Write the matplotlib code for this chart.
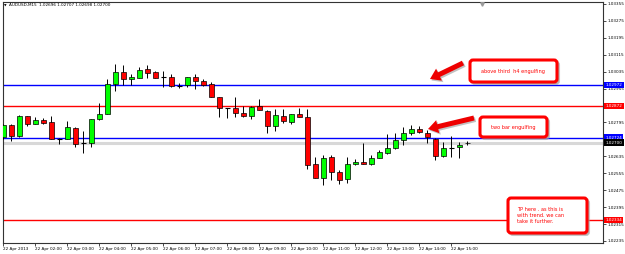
import matplotlib
matplotlib.use("Agg")
import matplotlib.pyplot as plt
import matplotlib.transforms as mtransforms
from matplotlib.patches import FancyBboxPatch, FancyArrowPatch

# ---------------- data ----------------
title = "AUDUSD,M15  1.02696 1.02707 1.02698 1.02700"
x_labels = ["22 Apr 2013", "22 Apr 02:00", "22 Apr 03:00", "22 Apr 04:00",
            "22 Apr 05:00", "22 Apr 06:00", "22 Apr 07:00", "22 Apr 08:00",
            "22 Apr 09:00", "22 Apr 10:00", "22 Apr 11:00", "22 Apr 12:00",
            "22 Apr 13:00", "22 Apr 14:00", "22 Apr 15:00"]
bars_per_label = 4

opens = [1.02726, 1.02783, 1.02729, 1.02826, 1.02788, 1.02807, 1.02795, 1.02718,
         1.02717, 1.02771, 1.02697, 1.02700, 1.02812, 1.02837, 1.02978, 1.03034,
         1.02999, 1.03007, 1.03046, 1.03034, 1.03009, 1.03009, 1.02967, 1.02971,
         1.03009, 1.02991, 1.02977, 1.02916, 1.02864, 1.02862, 1.02838, 1.02826,
         1.02872, 1.02849, 1.02777, 1.02827, 1.02799, 1.02834, 1.02822, 1.02599,
         1.02534, 1.02631, 1.02560, 1.02528, 1.02597, 1.02607, 1.02599, 1.02629,
         1.02649, 1.02673, 1.02712, 1.02747, 1.02763, 1.02747, 1.02717, 1.02637,
         1.02675, 1.02678, 1.02696]
highs = [1.02788, 1.02788, 1.02830, 1.02828, 1.02821, 1.02814, 1.02826, 1.02722,
         1.02804, 1.02774, 1.02755, 1.02812, 1.02886, 1.02999, 1.03071, 1.03067,
         1.03024, 1.03056, 1.03065, 1.03037, 1.03038, 1.03024, 1.02983, 1.03011,
         1.03024, 1.03002, 1.02988, 1.02917, 1.02865, 1.02917, 1.02873, 1.02873,
         1.02907, 1.02852, 1.02857, 1.02859, 1.02835, 1.02862, 1.02859, 1.02633,
         1.02641, 1.02641, 1.02570, 1.02631, 1.02624, 1.02697, 1.02641, 1.02665,
         1.02739, 1.02744, 1.02775, 1.02783, 1.02780, 1.02760, 1.02722, 1.02704,
         1.02731, 1.02704, 1.02707]
lows = [1.02717, 1.02709, 1.02726, 1.02778, 1.02786, 1.02790, 1.02715, 1.02693,
        1.02715, 1.02681, 1.02652, 1.02681, 1.02807, 1.02835, 1.02945, 1.02972,
        1.02972, 1.03005, 1.03007, 1.03003, 1.02964, 1.02961, 1.02958, 1.02961,
        1.02952, 1.02967, 1.02916, 1.02820, 1.02815, 1.02820, 1.02820, 1.02813,
        1.02855, 1.02747, 1.02756, 1.02791, 1.02788, 1.02820, 1.02573, 1.02533,
        1.02500, 1.02523, 1.02504, 1.02508, 1.02594, 1.02599, 1.02596, 1.02627,
        1.02646, 1.02672, 1.02689, 1.02736, 1.02747, 1.02700, 1.02618, 1.02631,
        1.02631, 1.02626, 1.02690]
closes = [1.02783, 1.02731, 1.02826, 1.02788, 1.02807, 1.02793, 1.02717, 1.02718,
          1.02774, 1.02693, 1.02697, 1.02812, 1.02837, 1.02977, 1.03034, 1.03002,
          1.03009, 1.03043, 1.03029, 1.03004, 1.03009, 1.02967, 1.02967, 1.03009,
          1.02992, 1.02974, 1.02917, 1.02862, 1.02864, 1.02838, 1.02827, 1.02870,
          1.02855, 1.02777, 1.02829, 1.02802, 1.02834, 1.02822, 1.02596, 1.02534,
          1.02629, 1.02560, 1.02523, 1.02597, 1.02607, 1.02601, 1.02629, 1.02654,
          1.02676, 1.02712, 1.02744, 1.02763, 1.02749, 1.02725, 1.02637, 1.02673,
          1.02675, 1.02689, 1.02700]

y_ticks = [1.03355, 1.03275, 1.03195, 1.03115, 1.03035, 1.02955, 1.02875,
           1.02795, 1.02715, 1.02635, 1.02555, 1.02475, 1.02395, 1.02315, 1.02235]
levels = [1.02972, 1.02872, 1.02724, 1.02334]
level_colors = ["#0000ff", "#ff0000", "#0000ff", "#ff0000"]
bid_price = 1.02700

notes = ["above third  h4 engulfing",
         "two bar engulfing",
         "TP here . as this is\nwith trend. we can\ntake it further."]

# ---------------- figure ----------------
W, H = 625, 254
fig = plt.figure(figsize=(W / 100, H / 100), dpi=100)
fig.patch.set_facecolor("white")
ax = fig.add_axes([3 / W, 1 - 243 / H, 600 / W, 241 / H])
ax.set_facecolor("white")

bull, bear = "#00ff00", "#ff0000"
body_w = 0.62
for k, (o, h, l, c) in enumerate(zip(opens, highs, lows, closes)):
    ax.vlines(k, l, h, color="black", lw=0.7, zorder=3)
    if abs(c - o) < 1e-9:
        ax.hlines(o, k - body_w / 2, k + body_w / 2, color="black", lw=0.8, zorder=4)
    else:
        ax.bar(k, abs(c - o), bottom=min(o, c), width=body_w,
               color=bull if c > o else bear, edgecolor="black", lw=0.5, zorder=4)

# bid line and horizontal levels
ax.axhline(bid_price, color="#d8d8d8", lw=2.2, zorder=1)
for lv, col in zip(levels, level_colors):
    ax.axhline(lv, color=col, lw=1.0, zorder=2)

ax.set_xlim(-0.05, 74.95)
ax.set_ylim(1.022255, 1.033644)

# tick labels fully hidden behind price tags (as in the terminal)
ymin, ymax = ax.get_ylim()
px_per_price = 241 / (ymax - ymin)
tag_prices = levels + [bid_price]


def tick_text(v):
    for t in tag_prices:
        if abs(v - t) * px_per_price < 3.3:
            return ""
    return f"{v:.5f}"


ax.yaxis.tick_right()
ax.set_yticks(y_ticks)
ax.set_yticklabels([tick_text(v) for v in y_ticks])
ax.set_xticks([i * bars_per_label for i in range(len(x_labels))])
ax.set_xticklabels(x_labels, ha="left")
ax.tick_params(axis="both", labelsize=3.0, length=2, width=0.5, pad=1.2,
               colors="black")
for s in ax.spines.values():
    s.set_color("#333333")
    s.set_linewidth(0.8)

# price tags on right axis
blend = mtransforms.blended_transform_factory(ax.transAxes, ax.transData)
for lv, col in zip(tag_prices, level_colors + ["#000000"]):
    ax.text(1.004, lv, f"{lv:.5f}", transform=blend, ha="left", va="center",
            fontsize=3.0, color="white", clip_on=False, zorder=10,
            bbox=dict(boxstyle="square,pad=0.3", fc=col, ec="none"))

# ---------------- overlay (pixel coordinates) ----------------
ov = fig.add_axes([0, 0, 1, 1])
ov.set_xlim(0, W)
ov.set_ylim(H, 0)
ov.axis("off")
ov.patch.set_alpha(0)

ov.text(3.5, 5.5, "\u25bc", fontsize=2.4, va="center", ha="left", color="black")
ov.text(9, 5.5, title, fontsize=3.0, va="center", ha="left", color="black")
ov.plot([482], [3.5], marker="v", color="#9a9a9a", ms=2.5)


def note_box(x0, y0, x1, y1):
    r = 3
    sh = FancyBboxPatch((x0 + r + 2, y0 + r + 2), x1 - x0 - 2 * r, y1 - y0 - 2 * r,
                        boxstyle=f"round,pad={r}", fc="#a0a0a0", ec="#a0a0a0",
                        lw=1.5, alpha=0.6, zorder=5)
    bx = FancyBboxPatch((x0 + r, y0 + r), x1 - x0 - 2 * r, y1 - y0 - 2 * r,
                        boxstyle=f"round,pad={r}", fc="white", ec="#ff0000",
                        lw=2.2, zorder=6)
    ov.add_patch(sh)
    ov.add_patch(bx)


def arrow(tail, tip):
    st = "simple,head_length=1.2,head_width=1.6,tail_width=0.6"
    shadow = FancyArrowPatch((tail[0] + 1.5, tail[1] + 1.5), (tip[0] + 1.5, tip[1] + 1.5),
                             arrowstyle=st, mutation_scale=6, color="#9a9a9a",
                             alpha=0.6, lw=0, zorder=5, shrinkA=0, shrinkB=0)
    a = FancyArrowPatch(tail, tip, arrowstyle=st, mutation_scale=6,
                        color="#ee0000", lw=0, zorder=6, shrinkA=0, shrinkB=0)
    ov.add_patch(shadow)
    ov.add_patch(a)


note_box(470, 60, 557, 82)
ov.text(513, 71, notes[0], color="#ff0000", fontsize=3.6, ha="center", va="center", zorder=7)
arrow((463, 63), (430, 79))

note_box(480, 117, 547, 137)
ov.text(513.5, 127, notes[1], color="#ff0000", fontsize=3.6, ha="center", va="center", zorder=7)
arrow((474, 118), (428, 129))

note_box(508, 198, 587, 233)
ov.text(517, 215.5, notes[2], color="#ff0000", fontsize=3.6, ha="left", va="center",
        linespacing=1.35, zorder=7)

fig.savefig("out.png", dpi=100, facecolor="white")
